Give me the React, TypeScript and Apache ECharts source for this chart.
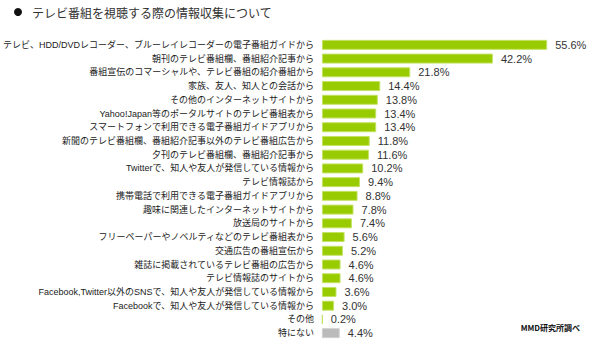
import React, { useEffect, useRef } from "react";
import * as echarts from "echarts";

const categories = [
  "テレビ、HDD/DVDレコーダー、ブルーレイレコーダーの電子番組ガイドから",
  "朝刊のテレビ番組欄、番組紹介記事から",
  "番組宣伝のコマーシャルや、テレビ番組の紹介番組から",
  "家族、友人、知人との会話から",
  "その他のインターネットサイトから",
  "Yahoo!Japan等のポータルサイトのテレビ番組表から",
  "スマートフォンで利用できる電子番組ガイドアプリから",
  "新聞のテレビ番組欄、番組紹介記事以外のテレビ番組広告から",
  "夕刊のテレビ番組欄、番組紹介記事から",
  "Twitterで、知人や友人が発信している情報から",
  "テレビ情報誌から",
  "携帯電話で利用できる電子番組ガイドアプリから",
  "趣味に関連したインターネットサイトから",
  "放送局のサイトから",
  "フリーペーパーやノベルティなどのテレビ番組表から",
  "交通広告の番組宣伝から",
  "雑誌に掲載されているテレビ番組の広告から",
  "テレビ情報誌のサイトから",
  "Facebook,Twitter以外のSNSで、知人や友人が発信している情報から",
  "Facebookで、知人や友人が発信している情報から",
  "その他",
  "特にない",
];

const values = [55.6, 42.2, 21.8, 14.4, 13.8, 13.4, 13.4, 11.8, 11.6, 10.2, 9.4, 8.8, 7.8, 7.4, 5.6, 5.2, 4.6, 4.6, 3.6, 3.0, 0.2, 4.4];

const title = "テレビ番組を視聴する際の情報収集について";
const source = "MMD研究所調べ";

export default function App() {
  const ref = useRef<HTMLDivElement>(null);
  useEffect(() => {
    if (!ref.current) return;
    const chart = echarts.init(ref.current, null, { renderer: "svg" });
    const n = categories.length;
    chart.setOption({
      animation: false,
      backgroundColor: "#ffffff",
      graphic: [
        { type: "circle", shape: { cx: 18, cy: 12, r: 4 }, style: { fill: "#111" } },
        {
          type: "text",
          x: 32,
          y: 12,
          style: {
            text: title,
            fill: "#333",
            font: '12px "Noto Sans CJK JP", sans-serif',
            textVerticalAlign: "middle",
          },
        },
        {
          type: "text",
          x: 580,
          y: 327,
          style: {
            text: source,
            fill: "#111",
            font: 'bold 8px "Noto Sans CJK JP", sans-serif',
            textAlign: "right",
            textVerticalAlign: "middle",
          },
        },
      ],
      grid: { left: 312, right: 35, top: 38, bottom: 12, containLabel: false },
      xAxis: {
        type: "value",
        min: 0,
        max: 60,
        show: false,
      },
      yAxis: {
        type: "category",
        data: categories,
        inverse: true,
        axisLine: { show: false },
        axisTick: { show: false },
        axisLabel: {
          margin: 8,
          fontSize: 9,
          color: "#222",
          fontFamily: '"Liberation Sans", Arial, "Noto Sans CJK JP", sans-serif',
        },
      },
      series: [
        {
          type: "bar",
          data: values.map((v, i) => ({
            value: v,
            itemStyle:
              i === n - 1
                ? { color: "#bbbbbb", borderColor: "#d0d0d0" }
                : { color: "#99cc00", borderColor: "#c4e266" },
          })),
          barWidth: 10,
          itemStyle: { borderWidth: 1 },
          label: {
            show: true,
            position: "right",
            distance: 8,
            formatter: (p: any) => p.value.toFixed(1) + "%",
            fontSize: 11,
            fontFamily: '"Liberation Sans", Arial, sans-serif',
            color: "#333",
          },
        },
      ],
    });
    return () => chart.dispose();
  }, []);
  return <div ref={ref} style={{ width: 600, height: 352, position: "absolute", left: 0, top: 0 }} />;
}
